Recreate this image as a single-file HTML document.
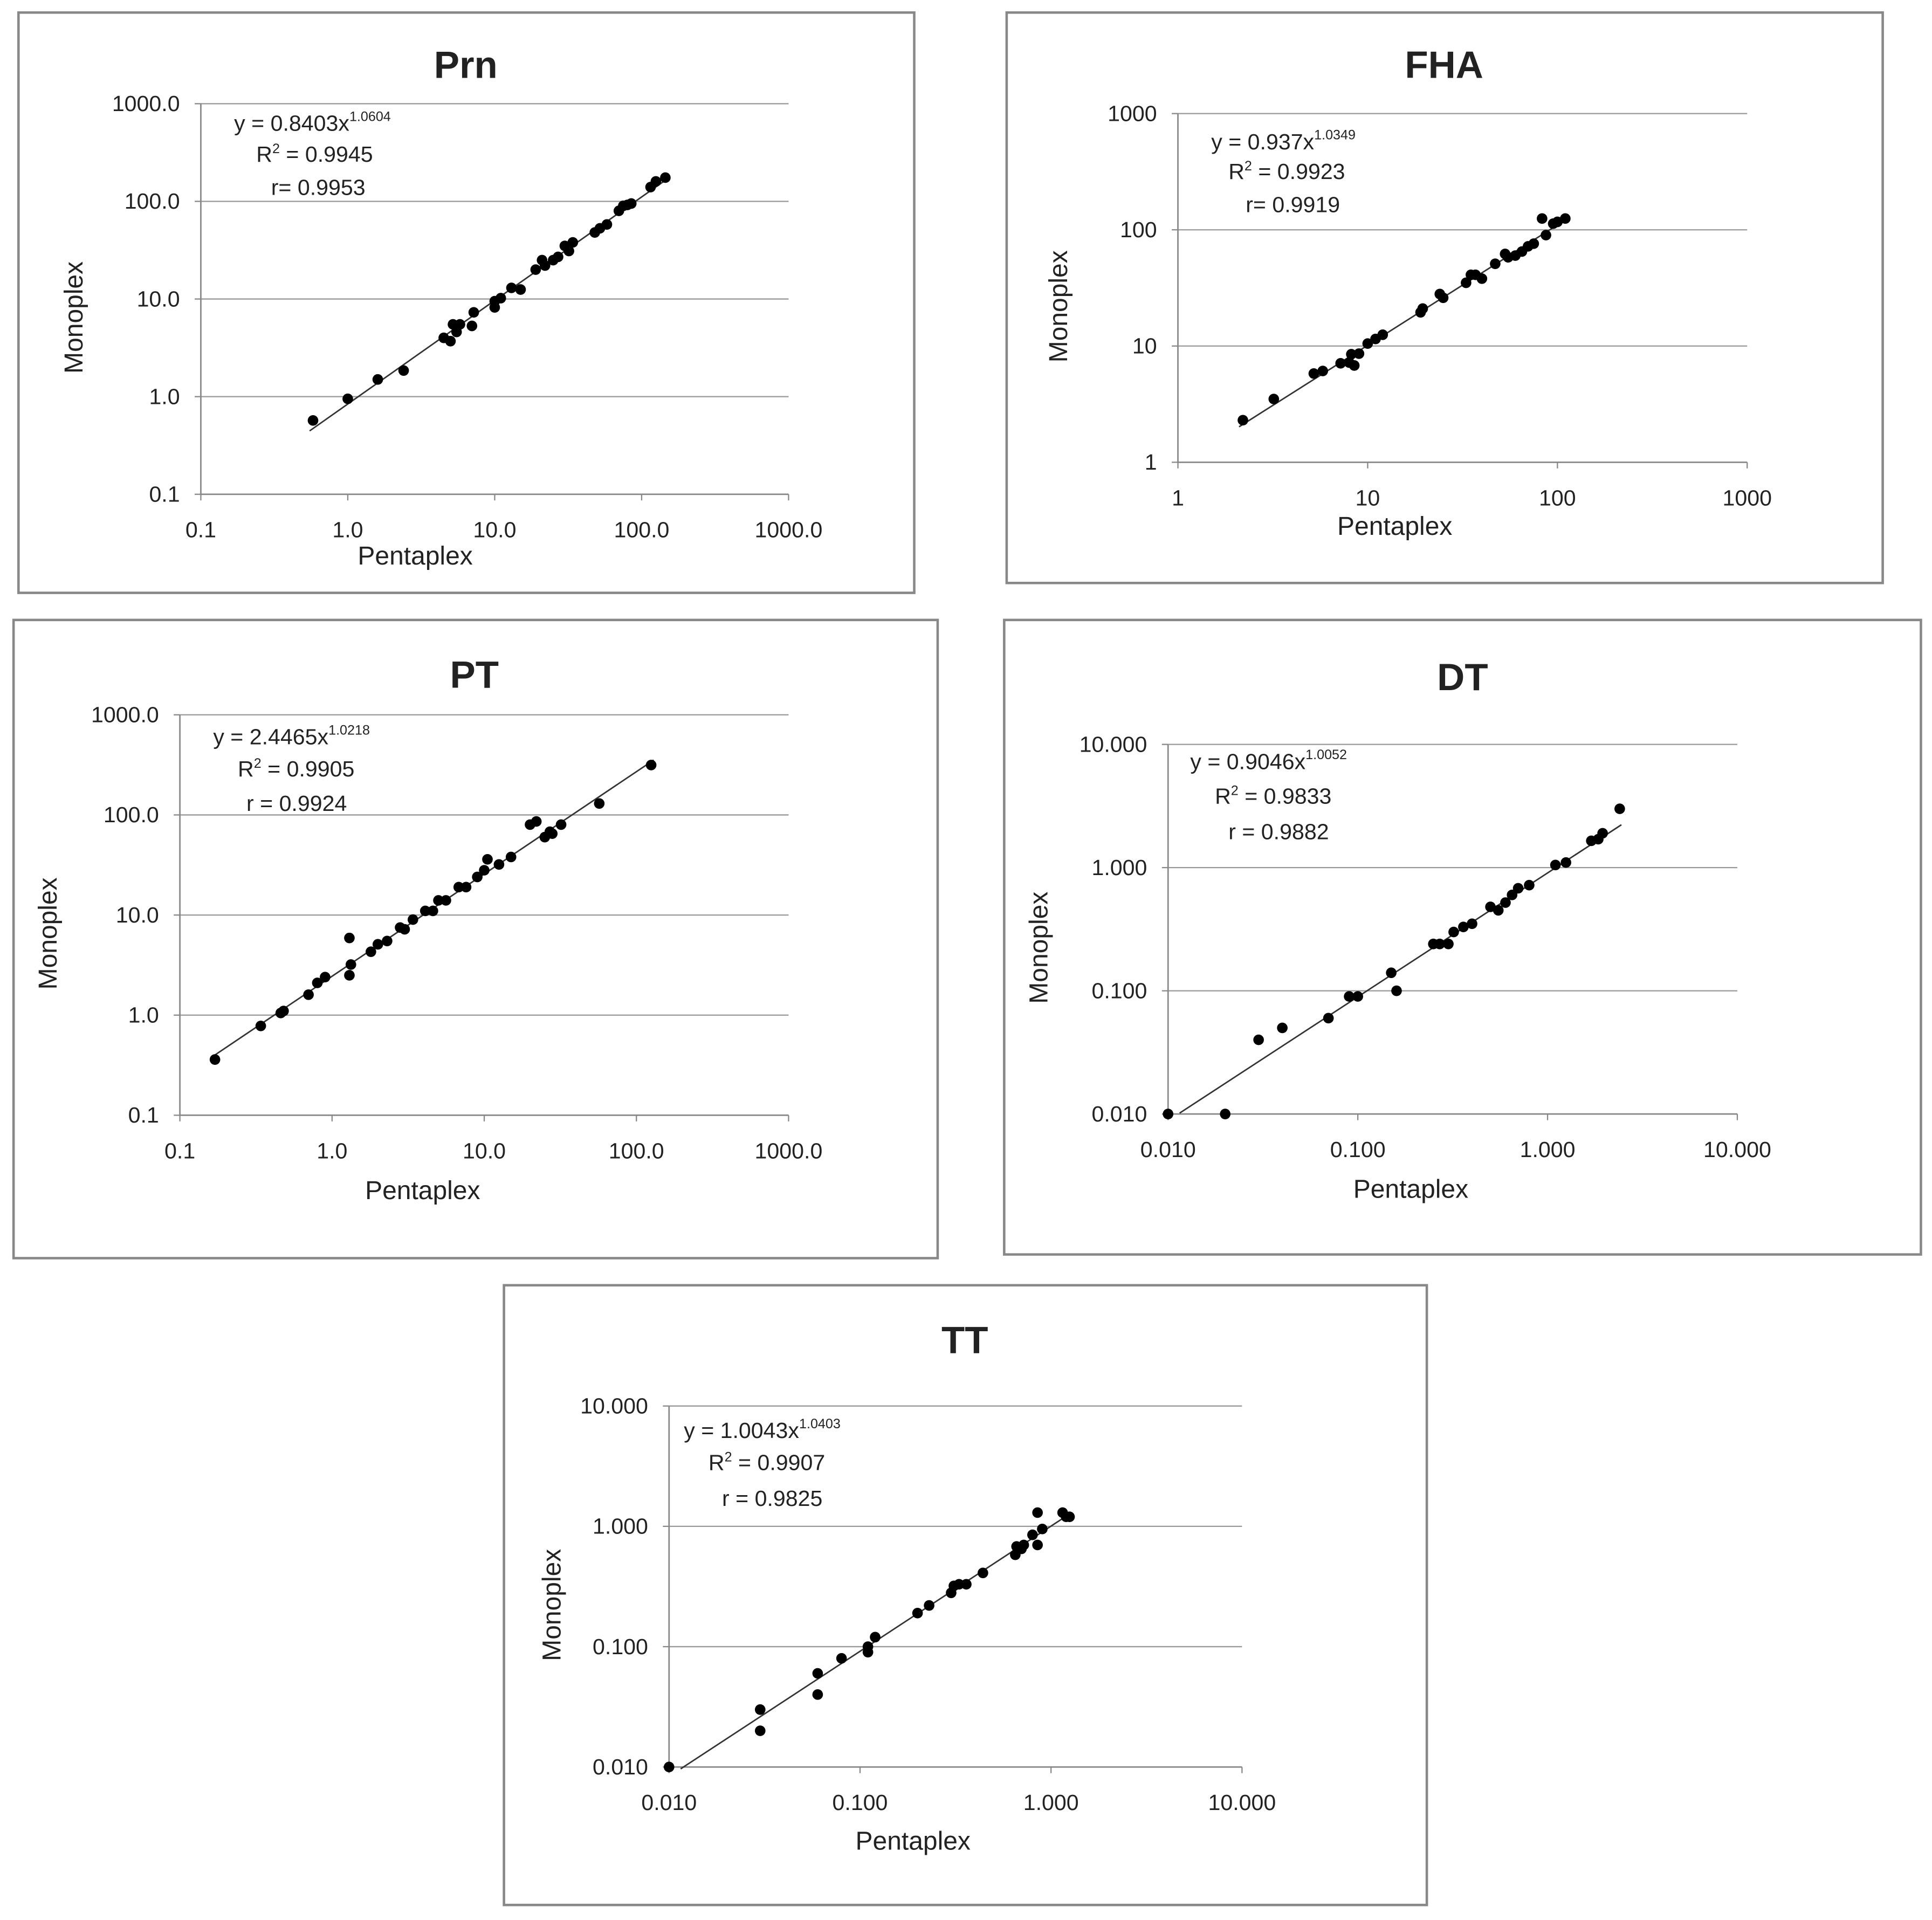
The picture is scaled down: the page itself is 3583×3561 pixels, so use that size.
<!DOCTYPE html>
<html><head><meta charset="utf-8"><style>
html,body{margin:0;padding:0;background:#fff}
svg{display:block}
text{font-family:"Liberation Sans",sans-serif;fill:#222}
</style></head><body>
<svg id="fig" width="3583" height="3561" viewBox="0 0 1568 1558" xmlns="http://www.w3.org/2000/svg"></svg>
<script>
// ---- data arrays ----
const prnX=[0.58,1.0,1.6,2.4,4.5,5,5.2,5.5,5.8,7,7.2,10,10,11,13,15,19,21,22,25,27,30,32,34,48,52,58,70,75,80,85,115,125,145];
const prnY=[0.57,0.95,1.5,1.85,4.0,3.7,5.5,4.6,5.5,5.3,7.3,8.2,9.5,10.2,13,12.5,20,25,22,25,27,35,31,38,48,53,58,80,90,92,95,140,160,175];
const fhaX=[2.2,3.2,5.2,5.8,7.2,8,8.2,8.5,9,10,11,12,19,19.5,24,25,33,35,37,40,47,53,55,60,65,70,75,83,87,95,100,110];
const fhaY=[2.3,3.5,5.8,6.1,7.1,7.2,8.5,6.8,8.6,10.5,11.5,12.5,19.5,21,28,26,35,41,41,38,51,62,58,60,65,72,76,125,90,113,117,125];
const ptX=[0.17,0.34,0.46,0.48,0.7,0.8,0.9,1.3,1.3,1.33,1.8,2,2.3,2.8,3,3.4,4.1,4.6,5,5.6,6.8,7.6,9,10,10.5,12.5,15,20,22,25,27,28,32,57,125];
const ptY=[0.36,0.78,1.05,1.1,1.6,2.1,2.4,2.5,5.9,3.2,4.3,5.1,5.5,7.5,7.2,9,11,11,14,14,19,19,24,28,36,32,38,80,86,60,68,65,80,130,315];
const dtX=[0.01,0.02,0.03,0.04,0.07,0.09,0.1,0.15,0.16,0.25,0.27,0.3,0.32,0.36,0.4,0.5,0.55,0.6,0.65,0.7,0.8,1.1,1.25,1.7,1.85,1.95,2.4];
const dtY=[0.01,0.01,0.04,0.05,0.06,0.09,0.09,0.14,0.1,0.24,0.24,0.24,0.3,0.33,0.35,0.48,0.45,0.52,0.6,0.68,0.72,1.05,1.1,1.65,1.7,1.9,3.0];
const ttX=[0.01,0.03,0.03,0.06,0.06,0.08,0.11,0.11,0.12,0.2,0.23,0.3,0.31,0.33,0.36,0.44,0.65,0.66,0.7,0.72,0.8,0.85,0.85,0.9,1.15,1.2,1.25];
const ttY=[0.01,0.03,0.02,0.06,0.04,0.08,0.1,0.09,0.12,0.19,0.22,0.28,0.32,0.33,0.33,0.41,0.58,0.68,0.65,0.7,0.85,1.3,0.7,0.95,1.3,1.2,1.2];
const prnTicks=["0.1","1.0","10.0","100.0","1000.0"];
const fhaTicks=["1","10","100","1000"];
const ptTicks=["0.1","1.0","10.0","100.0","1000.0"];
const dtTicks=["0.010","0.100","1.000","10.000"];
const ttTicks=["0.010","0.100","1.000","10.000"];
const fits=[[0.8403,1.0604],[0.937,1.0349],[2.4465,1.0218],[0.9046,1.0052],[1.0043,1.0403]];
const eqs=[["0.8403","1.0604","0.9945","0.9953","r= "],["0.937","1.0349","0.9923","0.9919","r= "],["2.4465","1.0218","0.9905","0.9924","r = "],["0.9046","1.0052","0.9833","0.9882","r = "],["1.0043","1.0403","0.9907","0.9825","r = "]];

const NS="http://www.w3.org/2000/svg";
const svg=document.getElementById('fig');
function mk(tag,attrs,parent,txt){const e=document.createElementNS(NS,tag);for(const k in attrs)e.setAttribute(k,attrs[k]);if(txt!==undefined)e.textContent=txt;(parent||svg).appendChild(e);return e;}

const panels=[
 {id:'prn',title:'Prn',box:[15,10,727,471],pl:163,pr:640,pt:84,pb:401,lo:0.1,hi:1000,ticks:prnTicks,xs:prnX,ys:prnY,ylab:67,xl:[337,458],tp:[378,52],eq:[[190,100],[208,125],[220,152]],fx:[0.55,150]},
 {id:'fha',title:'FHA',box:[817,10,711,463],pl:956,pr:1418,pt:92,pb:375,lo:1,hi:1000,ticks:fhaTicks,xs:fhaX,ys:fhaY,ylab:866,xl:[1132,434],tp:[1172,52],eq:[[983,115],[997,139],[1011,166]],fx:[2.1,112]},
 {id:'pt',title:'PT',box:[11,503,750,518],pl:146,pr:640,pt:580,pb:905,lo:0.1,hi:1000,ticks:ptTicks,xs:ptX,ys:ptY,ylab:46,xl:[343,973],tp:[385,547],eq:[[173,598],[193,624],[200,652]],fx:[0.16,130]},
 {id:'dt',title:'DT',box:[815,503,744,515],pl:948,pr:1410,pt:604,pb:904,lo:0.01,hi:10,ticks:dtTicks,xs:dtX,ys:dtY,ylab:850,xl:[1145,972],tp:[1187,549],eq:[[966,618],[986,646],[997,675]],fx:[0.0115,2.45]},
 {id:'tt',title:'TT',box:[409,1043,749,503],pl:543,pr:1008,pt:1141,pb:1434,lo:0.01,hi:10,ticks:ttTicks,xs:ttX,ys:ttY,ylab:455,xl:[741,1501],tp:[783,1087],eq:[[555,1161],[575,1187],[586,1216]],fx:[0.0115,1.27]}
];
panels.forEach((p,i)=>{
 const g=mk('g',{});
 
 
 const lr=Math.log10(p.hi/p.lo);
 const X=v=>p.pl+(Math.log10(v/p.lo)/lr)*(p.pr-p.pl);
 const Y=v=>p.pb-(Math.log10(v/p.lo)/lr)*(p.pb-p.pt);
 const b=mk('rect',{x:p.box[0],y:p.box[1],width:p.box[2],height:p.box[3],fill:'#fff',stroke:'#888','stroke-width':2},g);
 
 const t=mk('text',{x:p.tp[0],y:p.tp[1]+11,'text-anchor':'middle','font-size':31,'font-weight':'bold'},g,p.title);
 
 p.ticks.forEach((lab,k)=>{
  const v=p.lo*Math.pow(10,k);
  const yy=Y(v),xx=X(v);
  if(k>0){const gl=mk('line',{x1:p.pl,x2:p.pr,y1:yy,y2:yy,stroke:'#999','stroke-width':1},g);}
  const yt=mk('text',{x:p.pl-17,y:yy+6,'text-anchor':'end','font-size':18},g,lab);
  
  const xt=mk('text',{x:xx,y:p.pb+35,'text-anchor':'middle','font-size':18},g,lab);
  
  mk('line',{x1:xx,x2:xx,y1:p.pb,y2:p.pb+5,stroke:'#888'},g);
  mk('line',{x1:p.pl-5,x2:p.pl,y1:yy,y2:yy,stroke:'#888'},g);
 });
 mk('line',{x1:p.pl,x2:p.pr,y1:p.pb,y2:p.pb,stroke:'#888','stroke-width':1.2},g);
 mk('line',{x1:p.pl,x2:p.pl,y1:p.pt,y2:p.pb,stroke:'#888','stroke-width':1.2},g);
 const xa=mk('text',{x:p.xl[0],y:p.xl[1],'text-anchor':'middle','font-size':21},g,'Pentaplex');
 
 const cy=(p.pt+p.pb)/2+15;
 const ya=mk('text',{x:p.ylab,y:cy,'text-anchor':'middle','font-size':21,transform:`rotate(-90 ${p.ylab} ${cy})`},g,'Monoplex');
 
 const [a,bb]=fits[i];
 const fl=mk('line',{x1:X(p.fx[0]),y1:Y(a*Math.pow(p.fx[0],bb)),x2:X(p.fx[1]),y2:Y(a*Math.pow(p.fx[1],bb)),stroke:'#333','stroke-width':1.2},g);
 
 p.xs.forEach((xv,k)=>{
  const c=mk('circle',{cx:X(xv),cy:Y(p.ys[k]),r:4.3,fill:'#000'},g);
  
 });
 const e=eqs[i];
 const t1=mk('text',{x:p.eq[0][0],y:p.eq[0][1]+6,'font-size':18},g);
 
 mk('tspan',{},t1,'y = '+e[0]+'x');
 mk('tspan',{dy:-8,'font-size':11},t1,e[1]);
 const t2=mk('text',{x:p.eq[1][0],y:p.eq[1][1]+6,'font-size':18},g);
 
 mk('tspan',{},t2,'R');mk('tspan',{dy:-7,'font-size':11},t2,'2');mk('tspan',{dy:7},t2,' = '+e[2]);
 const t3=mk('text',{x:p.eq[2][0],y:p.eq[2][1]+6,'font-size':18},g,e[4]+e[3]);
 
});
</script>
</body></html>
